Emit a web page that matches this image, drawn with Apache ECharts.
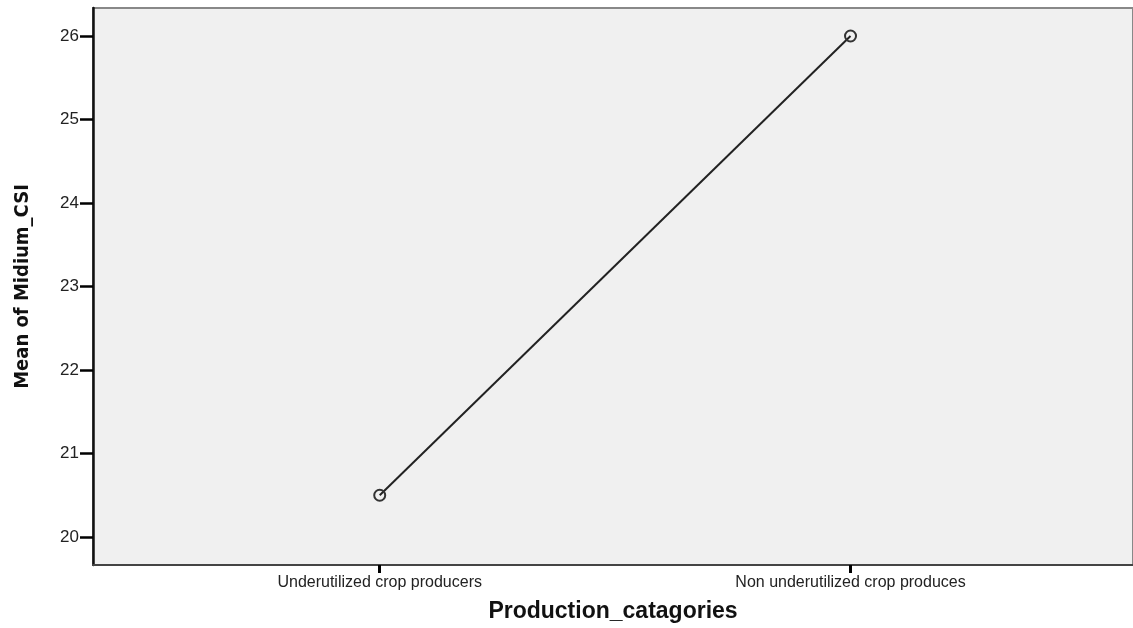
<!DOCTYPE html>
<html>
<head>
<meta charset="utf-8">
<script src="https://cdn.jsdelivr.net/npm/echarts@6/dist/echarts.min.js"></script>
<style>
  html, body { margin: 0; padding: 0; background: #fff; }
  #chart { width: 1133px; height: 628px; }
</style>
</head>
<body>
<div id="chart"></div>
<script>
// data
const categories = ['Underutilized crop producers', 'Non underutilized crop produces']
const catPos = [1, 2]
const means = [20.5, 26.0]
const yTicks = [20, 21, 22, 23, 24, 25, 26]

const chart = echarts.init(document.getElementById('chart'))

chart.setOption({
  animation: false,
  grid: {
    left: 93,
    right: 0,
    top: 8,
    bottom: 62,
    show: true,
    backgroundColor: '#f0f0f0',
    borderColor: '#888',
    borderWidth: 2
  },
  xAxis: {
    type: 'value',
    min: 0.391,
    max: 2.6,
    name: 'Production_catagories',
    nameLocation: 'middle',
    nameGap: 35,
    nameTextStyle: {
      fontFamily: 'Liberation Sans',
      fontWeight: 'bold',
      fontSize: 23,
      color: '#111'
    },
    splitLine: { show: false },
    axisLine: { lineStyle: { color: '#444', width: 2 } },
    axisTick: {
      customValues: catPos,
      length: 8,
      lineStyle: { color: '#000', width: 3 }
    },
    axisLabel: {
      customValues: catPos,
      margin: 10,
      fontFamily: 'Liberation Sans',
      fontSize: 16,
      color: '#222',
      formatter: v => categories[catPos.indexOf(v)] || ''
    }
  },
  yAxis: {
    type: 'value',
    min: 19.665,
    max: 26.335,
    name: 'Mean of Midium_CSI',
    nameLocation: 'middle',
    nameGap: 60,
    nameTextStyle: {
      fontFamily: "'DejaVu Sans Condensed', 'Liberation Sans', sans-serif",
      fontWeight: 'bold',
      fontSize: 20,
      color: '#111'
    },
    splitLine: { show: false },
    axisLine: { lineStyle: { color: '#111', width: 2.5 } },
    axisTick: {
      customValues: yTicks,
      length: 13,
      lineStyle: { color: '#000', width: 2.5 }
    },
    axisLabel: {
      customValues: yTicks,
      margin: 14,
      fontFamily: 'Liberation Sans',
      fontSize: 17,
      color: '#222'
    }
  },
  series: [{
    type: 'line',
    data: means.map((m, i) => [catPos[i], m]),
    symbol: 'circle',
    symbolSize: 11,
    lineStyle: { color: '#222', width: 2 },
    itemStyle: { color: 'rgba(0,0,0,0)', borderColor: '#333', borderWidth: 2 }
  }]
})
</script>
</body>
</html>
